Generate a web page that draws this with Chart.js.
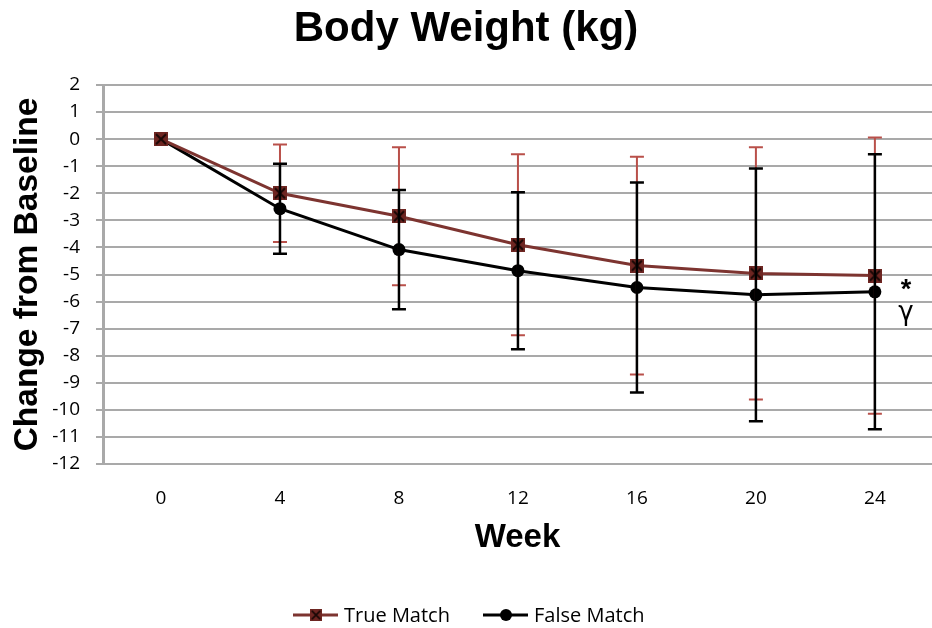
<!DOCTYPE html>
<html>
<head>
<meta charset="utf-8">
<script src="https://cdn.jsdelivr.net/npm/chart.js@4/dist/chart.umd.min.js"></script>
<style>
  html, body { margin: 0; padding: 0; background: #ffffff; overflow: hidden; }
  #wrap { width: 932px; height: 628px; position: relative; }
</style>
</head>
<body>
<div id="wrap"><canvas id="chart" width="932" height="628"></canvas></div>
<script>
// Weeks of follow-up and mean change in body weight (kg) with SD
const weeks = [0, 4, 8, 12, 16, 20, 24];
const trueMatchMean = [0, -2.0, -2.85, -3.9, -4.67, -4.96, -5.04];
const trueMatchSD   = [0, 1.8, 2.55, 3.34, 4.02, 4.66, 5.1];
const falseMatchMean = [0, -2.57, -4.08, -4.86, -5.48, -5.75, -5.64];
const falseMatchSD   = [0, 1.66, 2.2, 2.9, 3.88, 4.67, 5.08];
const yTickValues = [2, 1, 0, -1, -2, -3, -4, -5, -6, -7, -8, -9, -10, -11, -12];
const seriesNames = ['True Match', 'False Match'];
const endNotes = ['*', 'γ'];

const RED_LINE = '#7d3430';
const RED_BAR = '#b9504a';
const BLACK = '#000000';
const GRID = '#a9a9a9';

// Square marker with a cross for the first series
function crossSquare(size) {
  const c = document.createElement('canvas');
  c.width = size; c.height = size;
  const g = c.getContext('2d');
  g.fillStyle = '#6e2622';
  g.fillRect(0, 0, size, size);
  g.strokeStyle = '#1a0806';
  g.lineWidth = 2;
  g.beginPath();
  g.moveTo(2, 2); g.lineTo(size - 2, size - 2);
  g.moveTo(size - 2, 2); g.lineTo(2, size - 2);
  g.stroke();
  return c;
}
const squareMarker = crossSquare(14);

function toPoints(xs, ys) { return xs.map((x, i) => ({ x: x, y: ys[i] })); }

// Vertical SD bars with caps, drawn through the chart's scales
const errorBars = {
  id: 'errorBars',
  afterDatasetsDraw(chart) {
    const { ctx, scales: { x, y } } = chart;
    const sets = [
      { mean: trueMatchMean, sd: trueMatchSD, color: RED_BAR, width: 2 },
      { mean: falseMatchMean, sd: falseMatchSD, color: BLACK, width: 2.5 }
    ];
    ctx.save();
    sets.forEach(s => {
      ctx.strokeStyle = s.color;
      ctx.lineWidth = s.width;
      weeks.forEach((w, i) => {
        if (!s.sd[i]) return;
        const px = x.getPixelForValue(w);
        const top = y.getPixelForValue(s.mean[i] + s.sd[i]);
        const bot = y.getPixelForValue(s.mean[i] - s.sd[i]);
        ctx.beginPath();
        ctx.moveTo(px, top); ctx.lineTo(px, bot);
        ctx.moveTo(px - 7, top); ctx.lineTo(px + 7, top);
        ctx.moveTo(px - 7, bot); ctx.lineTo(px + 7, bot);
        ctx.stroke();
      });
    });
    ctx.restore();
  }
};

// Significance marks next to the week-24 points, and the legend row
const extras = {
  id: 'extras',
  afterDraw(chart) {
    const { ctx, scales: { x, y } } = chart;
    const last = weeks.length - 1;
    const nx = x.getPixelForValue(weeks[last]) + 31;
    const ny = y.getPixelForValue(falseMatchMean[last]);
    ctx.save();
    ctx.fillStyle = '#000';
    ctx.textAlign = 'center';
    ctx.textBaseline = 'middle';
    ctx.font = 'bold 27px "Liberation Sans", Arial, sans-serif';
    ctx.fillText(endNotes[0], nx, ny - 1);
    ctx.font = '26px "DejaVu Sans", sans-serif';
    ctx.fillText(endNotes[1], nx, ny + 21);

    // legend
    const ly = 615;
    const items = [
      { name: seriesNames[0], x0: 293, color: RED_LINE, marker: 'square' },
      { name: seriesNames[1], x0: 483, color: BLACK, marker: 'circle' }
    ];
    items.forEach(it => {
      ctx.strokeStyle = it.color;
      ctx.lineWidth = 3;
      ctx.beginPath();
      ctx.moveTo(it.x0, ly); ctx.lineTo(it.x0 + 45, ly);
      ctx.stroke();
      const mx = it.x0 + 23;
      if (it.marker === 'square') {
        ctx.drawImage(squareMarker, mx - 6, ly - 6, 12, 12);
      } else {
        ctx.fillStyle = BLACK;
        ctx.beginPath();
        ctx.arc(mx, ly, 6, 0, Math.PI * 2);
        ctx.fill();
      }
      ctx.fillStyle = '#000';
      ctx.textAlign = 'left';
      ctx.textBaseline = 'middle';
      ctx.font = '20px "Open Sans", sans-serif';
      ctx.fillText(it.name, it.x0 + 51, ly + 1);
    });
    ctx.restore();
  }
};

new Chart(document.getElementById('chart'), {
  type: 'line',
  data: {
    datasets: [
      {
        label: seriesNames[0],
        data: toPoints(weeks, trueMatchMean),
        borderColor: RED_LINE,
        backgroundColor: RED_LINE,
        borderWidth: 3,
        pointStyle: squareMarker,
        pointRadius: 7,
        tension: 0
      },
      {
        label: seriesNames[1],
        data: toPoints(weeks, falseMatchMean),
        borderColor: BLACK,
        backgroundColor: BLACK,
        borderWidth: 3,
        pointStyle: 'circle',
        pointRadius: 6.5,
        pointBorderWidth: 0,
        tension: 0
      }
    ]
  },
  options: {
    responsive: false,
    animation: false,
    events: [],
    layout: { autoPadding: false, padding: { left: 0, right: 0, top: 0, bottom: 60 } },
    plugins: {
      legend: { display: false },
      tooltip: { enabled: false },
      title: {
        display: true,
        text: 'Body Weight (kg)',
        color: '#000',
        font: { family: '"Liberation Sans", Arial, sans-serif', size: 42, weight: 'bold', lineHeight: 1.2 },
        padding: { top: 4, bottom: 30.6 }
      }
    },
    scales: {
      x: {
        type: 'linear',
        min: -1.95,
        max: 25.92,
        afterBuildTicks(scale) { scale.ticks = weeks.map(v => ({ value: v })); },
        afterFit(scale) {
          scale.height = 104;
          scale.paddingLeft = 0;
          scale.paddingRight = 0;
        },
        grid: { display: false, drawTicks: false },
        border: { display: true, color: GRID, width: 2 },
        ticks: {
          color: '#000',
          padding: 23,
          font: { family: '"Open Sans", sans-serif', size: 19 },
          callback: v => String(v)
        },
        title: {
          display: true,
          text: 'Week',
          color: '#000',
          font: { family: '"Liberation Sans", Arial, sans-serif', size: 33, weight: 'bold', lineHeight: 1.2 },
          padding: { top: 0, bottom: 10 }
        }
      },
      y: {
        type: 'linear',
        min: -12,
        max: 2,
        afterBuildTicks(scale) { scale.ticks = yTickValues.map(v => ({ value: v })); },
        afterFit(scale) { scale.width = 103; },
        grid: { color: GRID, lineWidth: 2, tickLength: 7, drawTicks: true },
        border: { display: true, color: GRID, width: 3 },
        ticks: {
          color: '#000',
          padding: 16,
          font: { family: '"Open Sans", sans-serif', size: 19 },
          callback: v => String(v)
        },
        title: {
          display: true,
          text: 'Change from Baseline',
          color: '#000',
          font: { family: '"Liberation Sans", Arial, sans-serif', size: 33.5, weight: 'bold', lineHeight: 1.2 },
          padding: { top: 8, bottom: 0 }
        }
      }
    }
  },
  plugins: [errorBars, extras]
});
</script>
</body>
</html>
